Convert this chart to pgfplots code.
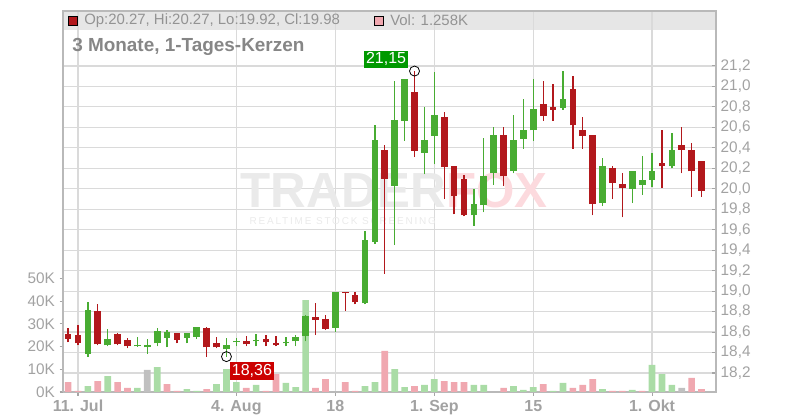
\documentclass[border=0pt]{standalone}
\usepackage{fontspec}
\setmainfont{Liberation Sans}
\usepackage{pgfplots}
\usepackage{pgfplotstable}
\pgfplotsset{compat=1.18}

\definecolor{cgreen}{RGB}{72,172,50}
\definecolor{cred}{RGB}{178,24,28}
\definecolor{vgreen}{RGB}{170,220,166}
\definecolor{vpink}{RGB}{240,168,176}
\definecolor{vgrey}{RGB}{192,192,192}
\definecolor{gridc}{RGB}{218,218,218}
\definecolor{txt}{RGB}{162,162,162}
\definecolor{band}{RGB}{230,230,230}
\definecolor{boxgreen}{RGB}{0,153,0}
\definecolor{boxred}{RGB}{204,0,0}
\definecolor{wm}{RGB}{234,234,234}
\definecolor{wmpink}{RGB}{252,218,222}

% daily candles, i = trading day (0 = 11 Jul)
% i open high low close
\pgfplotstableread{
i o h l c
1 18.39 18.89 18.36 18.82
3 18.47 18.63 18.46 18.53
6 18.46 18.55 18.455 18.47
7 18.45 18.53 18.39 18.47
8 18.49 18.64 18.46 18.61
9 18.545 18.62 18.45 18.60
11 18.54 18.59 18.49 18.59
12 18.555 18.65 18.53 18.65
15 18.43 18.54 18.36 18.47
16 18.50 18.54 18.46 18.51
18 18.51 18.58 18.46 18.52
21 18.49 18.55 18.46 18.50
22 18.51 18.57 18.46 18.55
23 18.56 18.77 18.51 18.76
26 18.64 18.99 18.60 18.99
29 18.88 19.59 18.87 19.50
30 19.48 20.62 19.46 20.48
32 20.03 21.05 19.45 20.67
33 20.66 21.07 20.47 21.07
35 20.35 20.80 20.14 20.48
36 20.52 21.14 20.24 20.72
40 19.74 20.00 19.64 19.85
41 19.84 20.50 19.77 20.12
42 20.15 20.60 20.04 20.53
44 20.17 20.72 20.15 20.48
45 20.49 20.88 20.39 20.575
46 20.57 21.07 20.47 20.78
49 20.79 21.15 20.77 20.88
53 19.86 20.30 19.83 20.22
56 20.00 20.17 19.86 20.17
57 20.04 20.32 19.94 20.09
58 20.09 20.35 20.02 20.17
60 20.22 20.545 20.20 20.38
}\upcandles

\pgfplotstableread{
i o h l c
-1 18.58 18.64 18.50 18.535
0 18.57 18.67 18.47 18.49
2 18.81 18.87 18.47 18.48
4 18.58 18.59 18.47 18.48
5 18.52 18.54 18.44 18.46
10 18.59 18.59 18.49 18.52
13 18.64 18.65 18.36 18.45
14 18.49 18.55 18.44 18.45
17 18.51 18.56 18.46 18.48
19 18.53 18.57 18.46 18.50
20 18.49 18.56 18.46 18.47
24 18.75 18.88 18.57 18.72
25 18.73 18.77 18.62 18.63
27 18.99 18.99 18.81 18.98
28 18.96 18.99 18.87 18.89
31 20.38 20.43 19.17 20.10
34 20.95 21.15 20.31 20.37
37 20.70 20.75 19.90 20.21
38 20.22 20.22 19.75 19.93
39 20.10 20.13 19.73 19.74
43 20.53 20.60 20.03 20.12
47 20.83 21.05 20.665 20.71
48 20.80 21.02 20.665 20.77
50 20.975 21.10 20.39 20.62
51 20.575 20.70 20.39 20.52
52 20.53 20.53 19.74 19.85
54 20.20 20.22 19.90 20.06
55 20.05 20.15 19.72 20.01
59 20.25 20.57 20.01 20.22
61 20.43 20.60 20.15 20.38
62 20.38 20.45 19.92 20.17
63 20.27 20.27 19.92 19.98
}\downcandles

% volume in thousands
\pgfplotstableread{
i v
1 2.6
3 7.0
6 1.8
8 11.0
11 1.3
12 0.5
14 3.5
15 10.1
16 4.4
18 3.1
21 4.0
22 2.2
23 40.5
29 2.6
30 4.4
32 10.1
33 2.2
35 3.1
36 5.7
40 3.1
41 3.1
44 2.6
45 0.9
46 2.2
48 0.5
49 4.0
53 1.3
56 0.9
58 11.9
59 7.9
60 3.1
}\volup

\pgfplotstableread{
i v
-1 4.4
0 0.5
2 4.8
4 4.4
5 1.8
9 3.5
10 0.5
13 1.3
17 1.8
19 0.5
20 7.9
24 1.8
25 5.7
27 4.4
28 0.5
31 18.1
34 2.6
37 4.8
38 4.4
39 4.4
43 1.8
47 3.5
50 1.8
51 3.1
52 5.7
54 0.5
55 0.5
57 0.5
62 6.2
63 1.26
}\voldown

\pgfplotstableread{
i v
7 9.7
61 1.8
}\volflat

\pgfplotsset{
  chart/.style={
    scale only axis, width=489.75pt, height=285.75pt,
    at={(47.25pt,21pt)}, anchor=south west,
    xmin=-1.516, xmax=64.46,
  },
  price/.style={ymin=18.0144, ymax=21.737},
  lbl/.style={font=\fontsize{11.5}{13}\selectfont, text=txt},
  candle/.style={draw=none, mark=none,
    error bars/.cd, y dir=plus, y explicit, error mark=none,
    error bar style={#1}},
}

\begin{document}
\begin{tikzpicture}
\path[use as bounding box] (0,0) rectangle (600pt,315pt);

% header band
\fill[band] (47.25pt,292.5pt) rectangle (537pt,306.75pt);

% grid, price ticks and dates
\begin{axis}[chart, price,
  axis line style={draw=gray!55, line width=0.8pt},
  xmajorgrids, ymajorgrids,
  grid style={gridc, line width=0.9pt},
  xtick={0,16,26,36,46,58},
  xticklabels={11. Jul,4. Aug,18,1. Sep,15,1. Okt},
  xticklabel style={font=\bfseries\fontsize{12}{14}\selectfont, text=txt, yshift=-2.5pt},
  ytick={18.2,18.4,18.6,18.8,19.0,19.2,19.4,19.6,19.8,20.0,20.2,20.4,20.6,20.8,21.0,21.2},
  yticklabels={{18,2},{18,4},{18,6},{18,8},{19,0},{19,2},{19,4},{19,6},{19,8},{20,0},{20,2},{20,4},{20,6},{20,8},{21,0},{21,2}},
  yticklabel style={lbl},
  xtick pos=left, ytick pos=right, yticklabel pos=right,
  tick align=inside, major tick length=3pt,
  tick style={draw=gray!70, line width=0.8pt},
  xtick style={yshift=-3pt},
]
\end{axis}

% watermark
\node[anchor=west, inner sep=0, font=\bfseries\fontsize{37}{37}\selectfont, text=wm] (tr) at (180pt,172pt) {TRADER};
\node[anchor=west, inner sep=0, font=\bfseries\fontsize{37}{37}\selectfont, text=wmpink] at (tr.east) {FOX};
\node[anchor=west, inner sep=0, font=\fontsize{7.5}{8}\selectfont\addfontfeatures{LetterSpace=18}, text=wm] at (187pt,149.5pt) {REALTIME STOCK SCREENING};

% volume
\begin{axis}[chart, ymin=0, ymax=167.8,
  axis x line=none, axis y line*=left,
  axis line style={draw=gray!55, line width=0.8pt},
  ytick={0,10,20,30,40,50},
  yticklabels={0K,10K,20K,30K,40K,50K},
  yticklabel style={lbl},
  tick align=outside, major tick length=2.5pt,
  tick style={draw=gray!70, line width=0.8pt},
]
\addplot[ybar, bar width=5pt, bar shift=0pt, fill=vgreen, draw=none] table[x=i, y=v] {\volup};
\addplot[ybar, bar width=5pt, bar shift=0pt, fill=vpink, draw=none] table[x=i, y=v] {\voldown};
\addplot[ybar, bar width=5pt, bar shift=0pt, fill=vgrey, draw=none] table[x=i, y=v] {\volflat};
\end{axis}

% candles
\begin{axis}[chart, price, hide axis]
\addplot[candle={draw=cgreen, line width=1pt}]
  table[x=i, y=l, y error plus expr=\thisrow{h}-\thisrow{l}] {\upcandles};
\addplot[candle={draw=cgreen, line width=5pt}]
  table[x=i, y=o, y error plus expr=\thisrow{c}-\thisrow{o}] {\upcandles};
\addplot[candle={draw=cred, line width=1pt}]
  table[x=i, y=l, y error plus expr=\thisrow{h}-\thisrow{l}] {\downcandles};
\addplot[candle={draw=cred, line width=5pt}]
  table[x=i, y=c, y error plus expr=\thisrow{o}-\thisrow{c}] {\downcandles};

% high and low markers
\addplot[only marks, mark=o, mark size=3.75pt, black, mark options={line width=0.6pt},
  nodes near coords={21{,}15},
  every node near coord/.append style={anchor=south east, xshift=-4.5pt, yshift=2pt,
    fill=boxgreen, text=white, inner sep=1.5pt, minimum height=12.75pt,
    font=\fontsize{12}{13}\selectfont}]
  coordinates {(34,21.15)};
\addplot[only marks, mark=o, mark size=3.75pt, black, mark options={line width=0.6pt},
  nodes near coords={18{,}36},
  every node near coord/.append style={anchor=north west, xshift=2.25pt, yshift=-3.75pt,
    fill=boxred, text=white, inner sep=1.5pt, minimum height=13.5pt,
    font=\fontsize{12}{13}\selectfont}]
  coordinates {(15,18.36)};
\end{axis}

% header text and title
\fill[cred, draw=black, line width=0.6pt] (51pt,296.25pt) rectangle (57.75pt,303pt);
\node[anchor=west, inner sep=0, font=\fontsize{11.2}{12}\selectfont, text=gray!85] at (63pt,299.6pt) {Op:20.27, Hi:20.27, Lo:19.92, Cl:19.98};
\fill[vpink, draw=black, line width=0.6pt] (280.5pt,296.25pt) rectangle (287.25pt,303pt);
\node[anchor=west, inner sep=0, font=\fontsize{11.2}{12}\selectfont, text=gray!85] at (292.5pt,299.6pt) {Vol: 1.258K};
\node[anchor=west, inner sep=0, font=\bfseries\fontsize{14.2}{16}\selectfont, text=gray!95] at (54pt,279.75pt) {3 Monate, 1-Tages-Kerzen};
\end{tikzpicture}
\end{document}
